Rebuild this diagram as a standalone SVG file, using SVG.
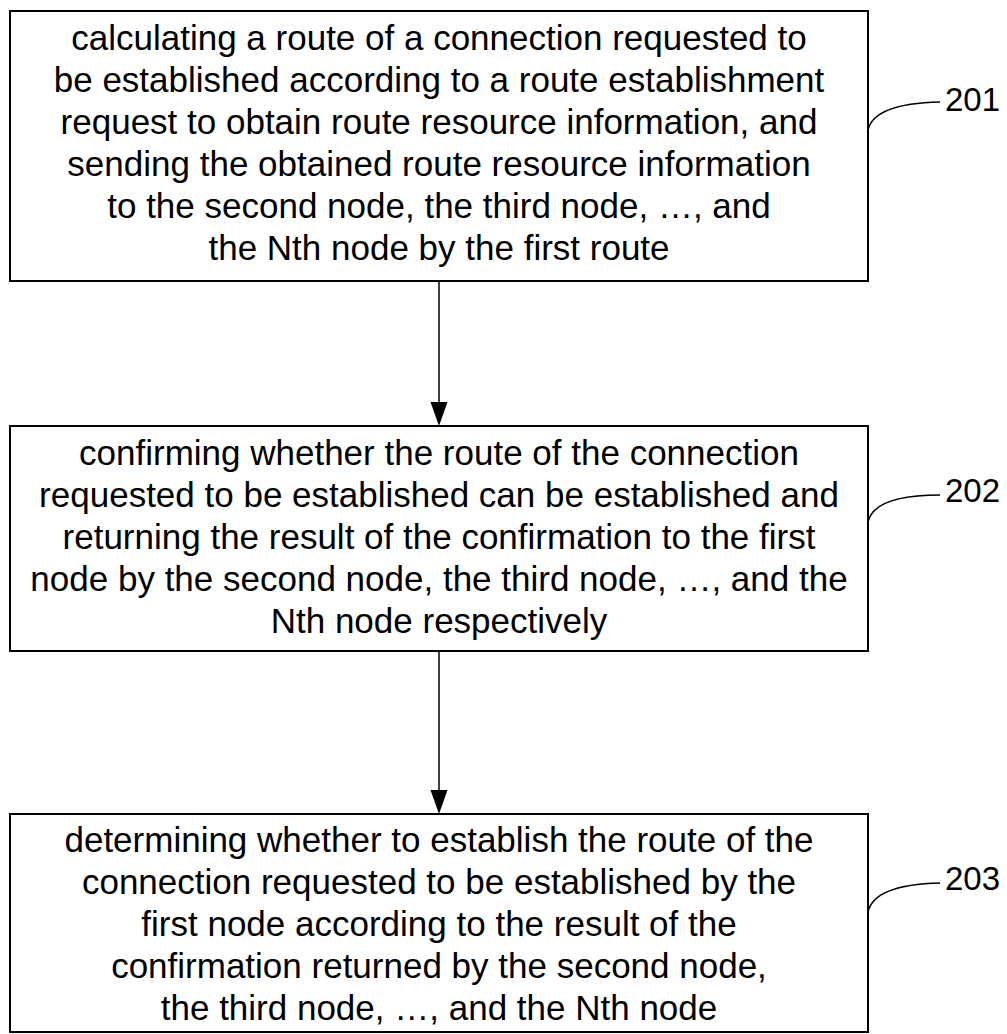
<svg xmlns="http://www.w3.org/2000/svg" width="1007" height="1034" viewBox="0 0 1007 1034">
<defs>
<style>
.box{fill:#fff;stroke:#000;stroke-width:2}
.t{font-family:"Liberation Sans",Arial,sans-serif;font-size:35px;fill:#000;text-anchor:middle}
.lbl{font-family:"Liberation Sans",Arial,sans-serif;font-size:33px;fill:#000}
.edge{stroke:#000;stroke-width:1.5;fill:none}
.head{fill:#000}
.lead{stroke:#000;stroke-width:1.6;fill:none}
</style>
</defs>
<rect width="1007" height="1034" fill="#fff"/>
<g id="connectors">
<path class="edge" d="M439,281 V404"/>
<path class="head" d="M430.5,402 L447.5,402 L439,426 Z"/>
<path class="edge" d="M439,651 V792"/>
<path class="head" d="M430.5,790 L447.5,790 L439,814 Z"/>
</g>
<g id="node201">
<rect class="box" x="10" y="11" width="858" height="270"/>
<text class="t" x="439" y="50">calculating a route of a connection requested to</text>
<text class="t" x="439" y="92">be established according to a route establishment</text>
<text class="t" x="439" y="134">request to obtain route resource information, and</text>
<text class="t" x="439" y="176">sending the obtained route resource information</text>
<text class="t" x="439" y="218">to the second node, the third node, …, and</text>
<text class="t" x="439" y="260">the Nth node by the first route</text>
</g>
<g id="label201">
<path class="lead" d="M868,130 C872,112 895,103 940,102"/>
<text class="lbl" x="945" y="111">201</text>
</g>
<g id="node202">
<rect class="box" x="10" y="426" width="858" height="225"/>
<text class="t" x="439" y="465">confirming whether the route of the connection</text>
<text class="t" x="439" y="507">requested to be established can be established and</text>
<text class="t" x="439" y="549">returning the result of the confirmation to the first</text>
<text class="t" x="439" y="591">node by the second node, the third node, …, and the</text>
<text class="t" x="439" y="633">Nth node respectively</text>
</g>
<g id="label202">
<path class="lead" d="M868,522 C872,504 895,495 940,495"/>
<text class="lbl" x="945" y="502">202</text>
</g>
<g id="node203">
<rect class="box" x="10" y="814" width="858" height="218"/>
<text class="t" x="439" y="852">determining whether to establish the route of the</text>
<text class="t" x="439" y="894">connection requested to be established by the</text>
<text class="t" x="439" y="936">first node according to the result of the</text>
<text class="t" x="439" y="978">confirmation returned by the second node,</text>
<text class="t" x="439" y="1020">the third node, …, and the Nth node</text>
</g>
<g id="label203">
<path class="lead" d="M868,912 C872,894 895,884 940,883"/>
<text class="lbl" x="945" y="890">203</text>
</g>
</svg>
